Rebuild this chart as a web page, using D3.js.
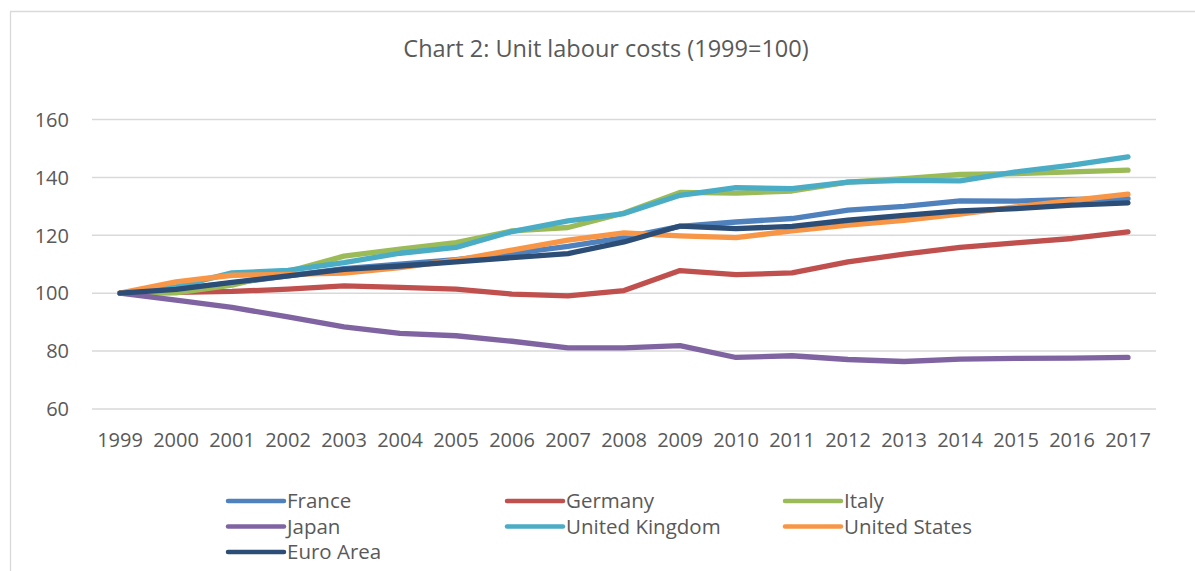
<!DOCTYPE html>
<html>
<head>
<meta charset="utf-8">
<script src="https://cdn.jsdelivr.net/npm/d3@7"></script>
<style>
  html, body { margin: 0; padding: 0; background: #fff; }
  svg { display: block; }
  text { font-family: "Open Sans", "DejaVu Sans", sans-serif; fill: #595959; }
</style>
</head>
<body>
<svg id="chart" width="1195" height="571"></svg>
<script>
const years = ["1999","2000","2001","2002","2003","2004","2005","2006","2007","2008","2009","2010","2011","2012","2013","2014","2015","2016","2017"];
const yTicks = [60, 80, 100, 120, 140, 160];
const title = "Chart 2: Unit labour costs (1999=100)";

const france  = [100, 101.5, 103.5, 106, 108.5, 110, 111.6, 113.7, 116.2, 119.2, 123.1, 124.6, 125.8, 128.7, 130, 131.9, 131.8, 132.4, 132.7];
const germany = [100, 100.3, 100.6, 101.4, 102.5, 102, 101.4, 99.7, 99.1, 100.9, 107.8, 106.4, 107, 110.8, 113.5, 115.8, 117.4, 118.9, 121.2];
const italy   = [100, 100.1, 102.8, 107.5, 112.8, 115.2, 117.5, 121.5, 122.7, 127.7, 134.8, 134.6, 135.3, 138.4, 139.6, 141, 141.3, 141.9, 142.5];
const japan   = [100, 97.6, 95.1, 91.8, 88.4, 86.1, 85.3, 83.4, 81.1, 81.1, 81.9, 77.8, 78.4, 77.1, 76.4, 77.2, 77.5, 77.6, 77.8];
const uk      = [100, 102.2, 107, 107.9, 110.6, 113.8, 115.8, 121.3, 125, 127.5, 133.8, 136.5, 136.1, 138.4, 139, 138.8, 141.9, 144.2, 147.1];
const us      = [100, 103.9, 106.2, 106.5, 106.9, 108.8, 111.4, 114.9, 118.3, 120.8, 119.8, 119.2, 121.5, 123.5, 125.2, 127.3, 129.8, 132.1, 134.2];
const euro    = [100, 101.3, 103.7, 106, 108.2, 109.4, 110.8, 112.3, 113.7, 117.7, 123.2, 122.3, 123.1, 125.2, 126.9, 128.4, 129.2, 130.4, 131.2];

const seriesNames  = ["France", "Germany", "Italy", "Japan", "United Kingdom", "United States", "Euro Area"];
const seriesValues = [france, germany, italy, japan, uk, us, euro];
const seriesColors = ["#4F81BD", "#C0504D", "#9BBB59", "#8064A2", "#4BACC6", "#F79646", "#2C4D75"];

const svg = d3.select("#chart");

// chart area border (top & left visible)
svg.append("path")
  .attr("d", "M10.5,1200 L10.5,11.5 L1300,11.5")
  .attr("fill", "none").attr("stroke", "#d9d9d9").attr("stroke-width", 1.3);

const x = d3.scaleBand().domain(years).range([92, 1156]);
const y = d3.scaleLinear().domain([60, 160]).range([409, 119.5]);

// gridlines
svg.append("g").selectAll("line").data(yTicks).join("line")
  .attr("x1", 92).attr("x2", 1156)
  .attr("y1", d => y(d)).attr("y2", d => y(d))
  .attr("stroke", "#d9d9d9").attr("stroke-width", 1.5);

// y labels
svg.append("g").selectAll("text").data(yTicks).join("text")
  .attr("x", 69).attr("y", d => y(d)).attr("dy", "0.36em")
  .attr("text-anchor", "end").attr("font-size", 20)
  .text(d => d);

// x labels
svg.append("g").selectAll("text").data(years).join("text")
  .attr("x", d => x(d) + x.bandwidth() / 2).attr("y", 447)
  .attr("text-anchor", "middle").attr("font-size", 20)
  .text(d => d);

// title
svg.append("text").attr("x", 606).attr("y", 57)
  .attr("text-anchor", "middle").attr("font-size", 23.5)
  .text(title);

// lines
const line = d3.line()
  .x((d, i) => x(years[i]) + x.bandwidth() / 2)
  .y(d => y(d));

svg.append("g").selectAll("path").data(seriesValues).join("path")
  .attr("d", d => line(d))
  .attr("fill", "none")
  .attr("stroke", (d, i) => seriesColors[i])
  .attr("stroke-width", 5.3)
  .attr("stroke-linecap", "round")
  .attr("stroke-linejoin", "round");

// legend
const legCols = [228, 507, 785];
const legRows = [501, 526.5, 552];
const leg = svg.append("g").selectAll("g").data(seriesNames).join("g")
  .attr("transform", (d, i) => `translate(${legCols[i % 3]},${legRows[Math.floor(i / 3)]})`);
leg.append("line")
  .attr("x1", 0).attr("x2", 56).attr("y1", 0).attr("y2", 0)
  .attr("stroke", (d, i) => seriesColors[i])
  .attr("stroke-width", 4.5).attr("stroke-linecap", "round");
leg.append("text")
  .attr("x", 59).attr("y", 0).attr("dy", "0.36em")
  .attr("font-size", 20.5)
  .text(d => d);
</script>
</body>
</html>
